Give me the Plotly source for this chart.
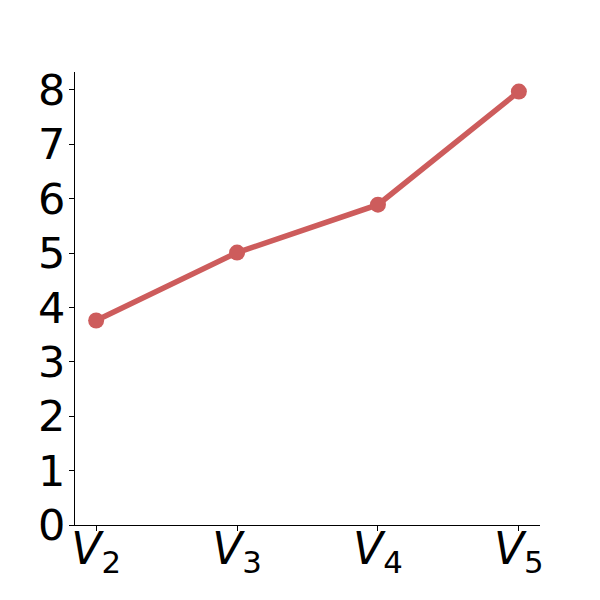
import plotly.graph_objects as go

categories = ["V2", "V3", "V4", "V5"]
tick_labels = ["<i>V</i><sub>2</sub>", "<i>V</i><sub>3</sub>", "<i>V</i><sub>4</sub>", "<i>V</i><sub>5</sub>"]
values = [3.76, 5.01, 5.89, 7.97]
y_ticks = [0, 1, 2, 3, 4, 5, 6, 7, 8]

x_idx = list(range(len(categories)))

fig = go.Figure()
fig.add_trace(go.Scatter(
    x=x_idx, y=values, mode="lines+markers",
    line=dict(color="#CD5C5C", width=5.5),
    marker=dict(color="#CD5C5C", size=16),
    cliponaxis=False,
))

fig.update_layout(
    width=600, height=600,
    margin=dict(l=67, r=68, t=64, b=83),
    plot_bgcolor="white", paper_bgcolor="white",
    showlegend=False,
    font=dict(family="DejaVu Sans", size=43, color="black"),
)
fig.update_xaxes(
    range=[-0.15, 3.15], automargin=False,
    tickmode="array", tickvals=x_idx, ticktext=tick_labels,
    showline=True, linecolor="black", linewidth=1.2,
    ticks="outside", ticklen=5, tickcolor="black", tickwidth=1,
    showgrid=False, zeroline=False,
    tickfont=dict(size=44),
    ticklabelstandoff=-20,
)
fig.update_yaxes(
    range=[0, 8.33], automargin=False,
    tickmode="array", tickvals=y_ticks,
    showline=True, linecolor="black", linewidth=1.2,
    ticks="outside", ticklen=5, tickcolor="black", tickwidth=1,
    showgrid=False, zeroline=False,
    tickfont=dict(size=43),
    ticklabelstandoff=-5,
)

fig.write_html("out.html")
